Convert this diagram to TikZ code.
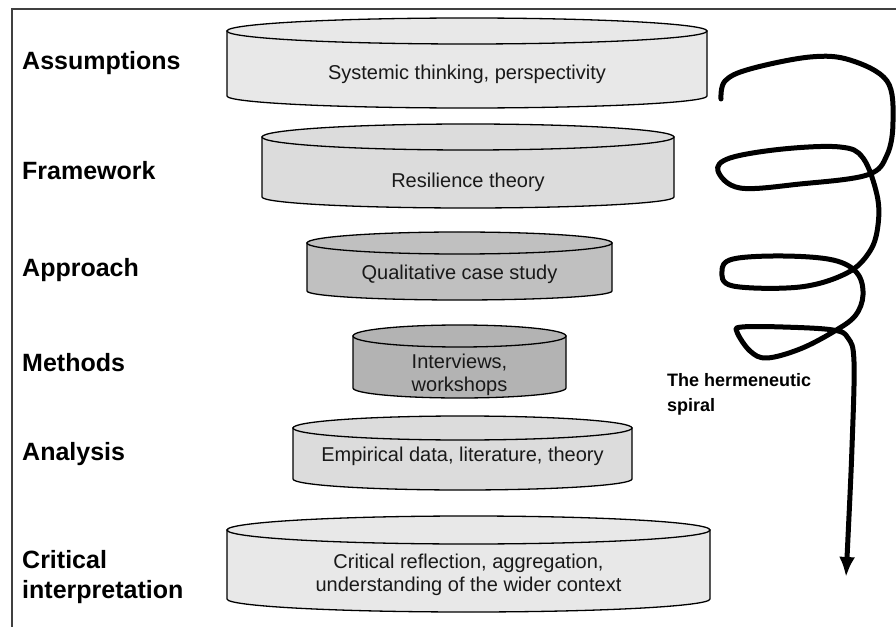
\documentclass[tikz,border=0pt]{standalone}
\usepackage{fontspec}
\setmainfont{Liberation Sans}
\usetikzlibrary{arrows.meta}
\definecolor{cylA}{HTML}{E8E8E8}
\definecolor{cylB}{HTML}{DCDCDC}
\definecolor{cylC}{HTML}{C0C0C0}
\definecolor{cylD}{HTML}{B3B3B3}
\tikzset{
  lbl/.style={anchor=west, font=\fontsize{25}{30}\selectfont\bfseries, align=left, inner sep=0pt},
  cyltext/.style={font=\fontsize{20}{23}\selectfont, align=center, inner sep=0pt, text=black!90},
  cylline/.style={draw=black, line width=1.3pt},
  frameline/.style={draw=black!75, line width=1.5pt},
  spiral/.style={line width=5pt, line cap=round, line join=round},
  spiraltext/.style={anchor=west, font=\fontsize{18}{25}\selectfont\bfseries, align=left, inner sep=0pt}
}
\newcommand\mycyl[7]{%
  \pgfmathsetmacro\cxc{(#1+#2)/2}\pgfmathsetmacro\cra{(#2-#1)/2}%
  \filldraw[cylline, fill=#7] (#1,#3) -- (#1,#5) arc[start angle=180,end angle=360,x radius=\cra,y radius=#6] -- (#2,#3) -- cycle;
  \filldraw[cylline, fill=#7] (\cxc,#3) ellipse[x radius=\cra, y radius=#4];
}
\begin{document}
\begin{tikzpicture}[x=1pt,y=1pt]
\useasboundingbox (0,0) rectangle (896,627);
\fill[white] (0,0) rectangle (896,627);
% frame
\draw[frameline] (896,618) -- (12,618) -- (12,0);
% cylinders
\mycyl{227}{707}{596}{13}{531}{12}{cylA}
\mycyl{262}{674}{490}{13}{430}{11}{cylB}
\mycyl{307}{612}{384}{11}{336}{9}{cylC}
\mycyl{353}{566}{291}{11}{239}{10}{cylD}
\mycyl{293}{632}{199}{12}{148}{11}{cylB}
\mycyl{227}{710}{97}{14}{28}{13}{cylA}
% cylinder texts
\node[cyltext] (t1) at (467,553) {Systemic thinking, perspectivity};
\node[cyltext] (t2) at (468,445) {Resilience theory};
\node[cyltext] (t3) at (459.5,353) {Qualitative case study};
\node[cyltext] (t4) at (459.5,252) {Interviews,\\workshops};
\node[cyltext] (t5) at (462.5,171) {Empirical data, literature, theory};
\node[cyltext] (t6) at (468.5,52) {Critical reflection, aggregation,\\understanding of the wider context};
% labels
\node[lbl] (l1) at (22,564) {Assumptions};
\node[lbl] (l2) at (22,456) {Framework};
\node[lbl] (l3) at (22,357) {Approach};
\node[lbl] (l4) at (22,264) {Methods};
\node[lbl] (l5) at (22,173) {Analysis};
\node[lbl] (l6) at (22,50) {Critical\\interpretation};
% spiral
\node[spiraltext] (sp) at (667,232.5) {The hermeneutic\\spiral};
\draw[spiral, -{Latex[length=20pt,width=16pt]}] plot[smooth, tension=0.6] coordinates {
(721,528) (725,546) (750,558) (810,570) (850,567) (887,546) (893,506) (887,472) (867,452)
(800,443) (740,439) (718,456) (730,469) (783,478) (840,480) (863,469) (877,432) (878,402)
(870,376) (847,354) (800,340) (733,341) (722,356) (733,368) (783,371) (833,367) (857,354)
(863,332) (855,311) (833,295) (800,278) (767,269) (750,276) (737,295) (742,300) (783,300)
(833,297) (848,289) (854,265) (852,180) (848,90) (846,50)};
\end{tikzpicture}
\end{document}
